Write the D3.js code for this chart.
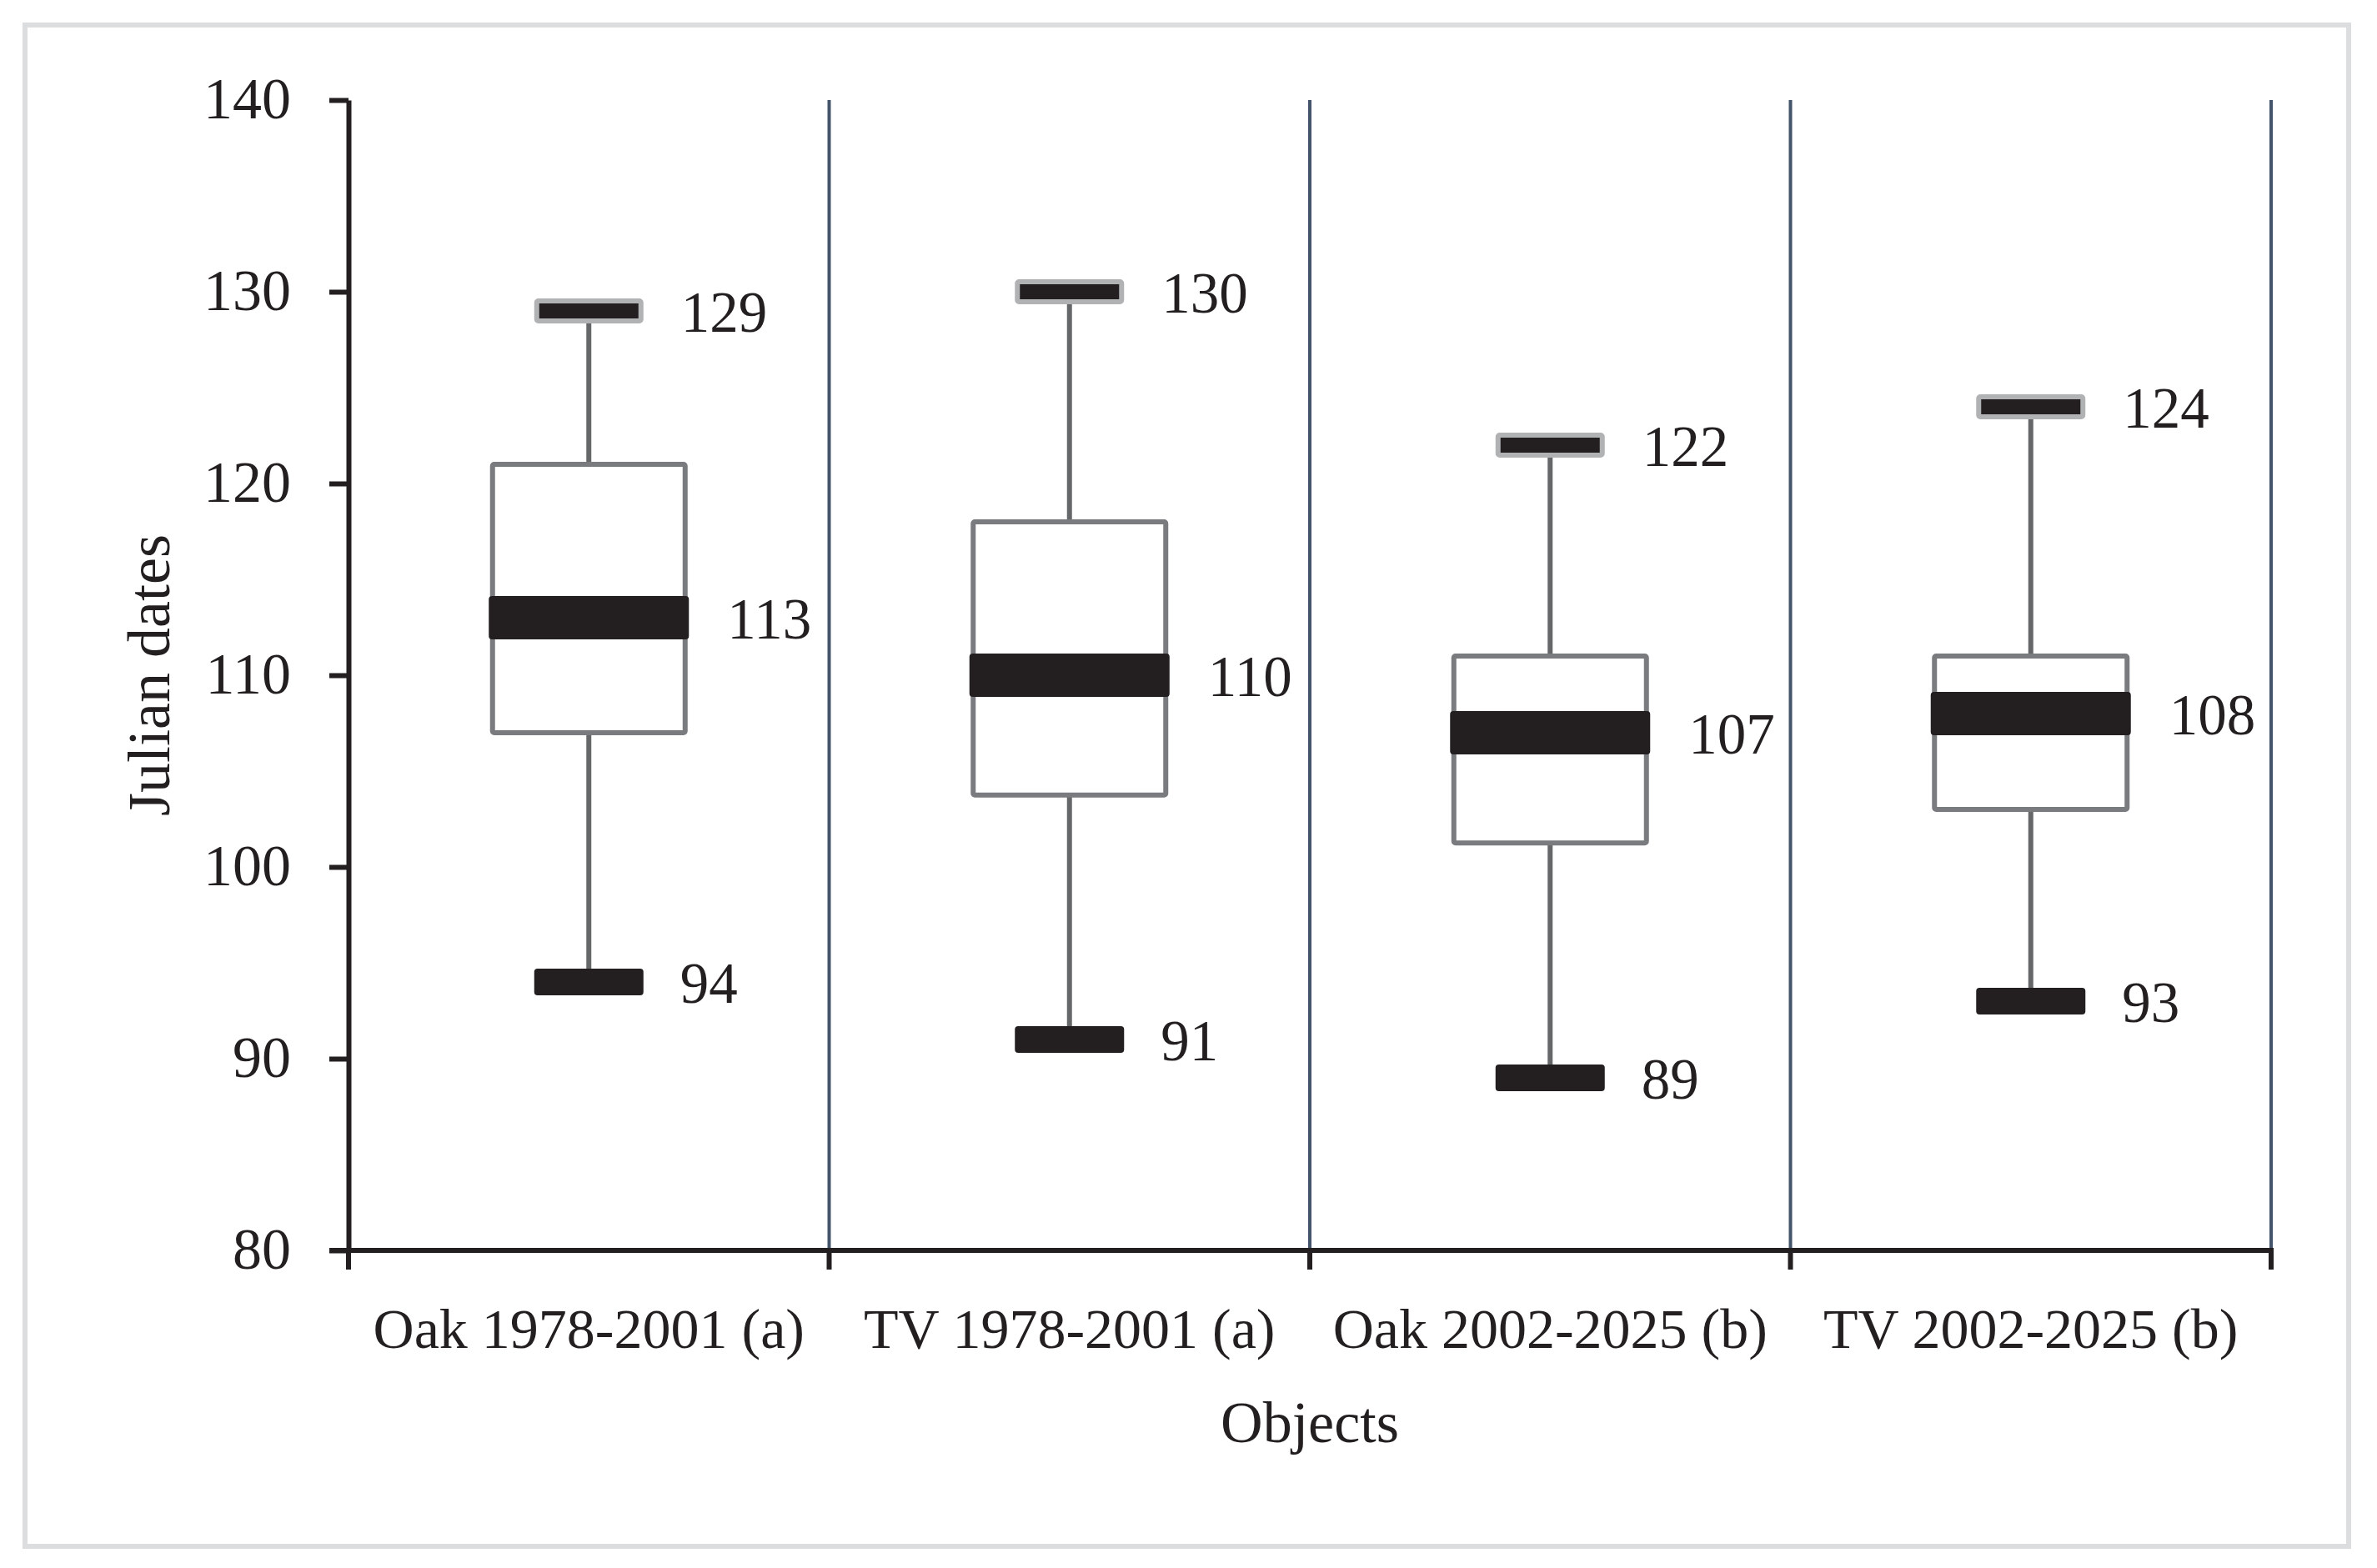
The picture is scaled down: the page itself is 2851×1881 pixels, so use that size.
<!DOCTYPE html>
<html>
<head>
<meta charset="utf-8">
<script src="https://cdn.jsdelivr.net/npm/d3@7"></script>
<style>
  html, body { margin: 0; padding: 0; background: #ffffff; }
  svg { display: block; }
  text { font-family: "Liberation Serif", "DejaVu Serif", serif; fill: #231f20; }
</style>
</head>
<body>
<svg id="chart" width="2851" height="1881"></svg>
<script>
// ---- data ----
const categories = ["Oak 1978-2001 (a)", "TV 1978-2001 (a)", "Oak 2002-2025 (b)", "TV 2002-2025 (b)"];
const minValues    = [94, 91, 89, 93];
const q1Values     = [107, 103.75, 101.25, 103];
const medianValues = [113, 110, 107, 108];
const q3Values     = [121, 118, 111, 111];
const maxValues    = [129, 130, 122, 124];
const yTicks       = [80, 90, 100, 110, 120, 130, 140];
const xTitle = "Objects";
const yTitle = "Julian dates";

// ---- layout ----
const W = 2851, H = 1881;
const plot = { left: 418, right: 2724, top: 120, bottom: 1500 };
const svg = d3.select("#chart");

svg.append("rect").attr("x", 0).attr("y", 0).attr("width", W).attr("height", H).attr("fill", "#ffffff");
svg.append("rect").attr("x", 30).attr("y", 30).attr("width", 2787).attr("height", 1825)
  .attr("fill", "none").attr("stroke", "#dcdddf").attr("stroke-width", 6);

const x = d3.scaleBand().domain(categories).range([plot.left, plot.right]).padding(0);
const y = d3.scaleLinear().domain([80, 140]).range([plot.bottom, plot.top]);

const data = categories.map((c, i) => ({
  cat: c, min: minValues[i], q1: q1Values[i], med: medianValues[i], q3: q3Values[i], max: maxValues[i]
}));

// separators between categories
const boundaries = categories.map(c => x(c) + x.bandwidth());
svg.append("g").selectAll("line").data(boundaries).join("line")
  .attr("x1", d => d).attr("x2", d => d)
  .attr("y1", y(140)).attr("y2", y(80))
  .attr("stroke", "#44546a").attr("stroke-width", 4);

// y axis
const yAxis = d3.axisLeft(y).tickValues(yTicks).tickSize(23).tickPadding(46).tickSizeOuter(0);
const gy = svg.append("g").attr("transform", `translate(${plot.left},0)`).call(yAxis);
gy.select(".domain").attr("stroke", "#231f20").attr("stroke-width", 6);
gy.selectAll(".tick line").attr("stroke", "#231f20").attr("stroke-width", 6);
gy.selectAll(".tick text").attr("font-size", 70).attr("font-family", "Liberation Serif")
  .attr("fill", "#231f20").attr("dy", "0.3em");

// x axis line + boundary ticks
const gx = svg.append("g");
gx.append("line").attr("x1", plot.left - 23).attr("x2", plot.right + 3)
  .attr("y1", y(80)).attr("y2", y(80)).attr("stroke", "#231f20").attr("stroke-width", 6);
gx.selectAll("line.bt").data([plot.left].concat(boundaries)).join("line").attr("class", "bt")
  .attr("x1", d => d).attr("x2", d => d)
  .attr("y1", y(80) - 3).attr("y2", y(80) + 23)
  .attr("stroke", "#231f20").attr("stroke-width", 6);
gx.selectAll("text").data(categories).join("text")
  .attr("x", d => x(d) + x.bandwidth() / 2).attr("y", 1617)
  .attr("text-anchor", "middle").attr("font-size", 68).text(d => d);

// titles
svg.append("text").attr("x", (plot.left + plot.right) / 2).attr("y", 1730)
  .attr("text-anchor", "middle").attr("font-size", 70).text(xTitle);
svg.append("text").attr("transform", `translate(203,${(plot.top + plot.bottom) / 2}) rotate(-90)`)
  .attr("text-anchor", "middle").attr("font-size", 72).text(yTitle);

// boxes
const boxW = 231, capW = 125, medW = 240;
const g = svg.append("g").selectAll("g").data(data).join("g")
  .attr("transform", d => `translate(${x(d.cat) + x.bandwidth() / 2},0)`);

g.append("line").attr("x1", 0).attr("x2", 0).attr("y1", d => y(d.max)).attr("y2", d => y(d.q3))
  .attr("stroke", "#666769").attr("stroke-width", 6);
g.append("line").attr("x1", 0).attr("x2", 0).attr("y1", d => y(d.q1)).attr("y2", d => y(d.min))
  .attr("stroke", "#666769").attr("stroke-width", 6);
g.append("rect").attr("x", -boxW / 2).attr("width", boxW)
  .attr("y", d => y(d.q3)).attr("height", d => y(d.q1) - y(d.q3))
  .attr("fill", "#ffffff").attr("stroke", "#7a7b7f").attr("stroke-width", 6).attr("rx", 2);
g.append("rect").attr("x", -medW / 2).attr("width", medW)
  .attr("y", d => y(d.med) - 26).attr("height", 52)
  .attr("fill", "#231f20").attr("rx", 4);
// upper cap
g.append("rect").attr("x", -capW / 2).attr("width", capW)
  .attr("y", d => y(d.max) - 12).attr("height", 24)
  .attr("fill", "#231f20").attr("stroke", "#b1b2b4").attr("stroke-width", 6).attr("rx", 2);
// lower cap
g.append("rect").attr("x", -(capW + 6) / 2).attr("width", capW + 6)
  .attr("y", d => y(d.min) - 16).attr("height", 32)
  .attr("fill", "#231f20").attr("rx", 4);

// value labels
g.append("text").attr("x", (capW + 6) / 2 + 45).attr("y", d => y(d.max) + 25)
  .attr("font-size", 69).text(d => d.max);
g.append("text").attr("x", medW / 2 + 46).attr("y", d => y(d.med) + 25)
  .attr("font-size", 69).text(d => d.med);
g.append("text").attr("x", (capW + 6) / 2 + 44).attr("y", d => y(d.min) + 25)
  .attr("font-size", 69).text(d => d.min);
</script>
</body>
</html>
